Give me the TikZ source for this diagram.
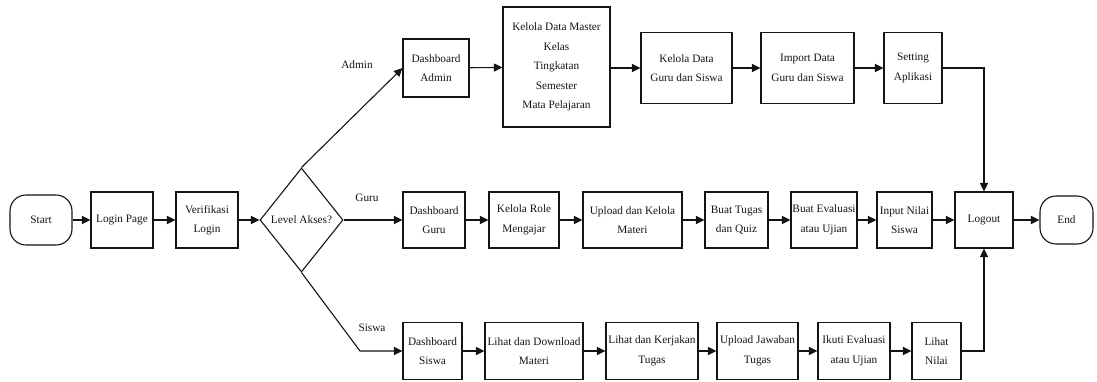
\documentclass[tikz,border=0pt]{standalone}
\usepackage{fontspec}
\setmainfont{Liberation Serif}
\usetikzlibrary{arrows.meta,positioning,shapes.geometric}
\definecolor{ink}{HTML}{141414}
\tikzset{
  >={Triangle[length=8.5pt,width=8pt]},
  box/.style={draw=ink, line width=1.1pt, align=center, inner sep=0pt, text=ink,
    font=\fontsize{11.3}{19.5}\selectfont},
  sz/.style 2 args={minimum width=#1pt, minimum height=#2pt},
  term/.style={box, rounded corners=16pt},
  dec/.style={box, diamond},
  arr/.style={->, draw=ink, line width=1.1pt},
  lbl/.style={font=\fontsize{11.3}{13}\selectfont, text=ink},
}
\begin{document}
\begin{tikzpicture}[x=1pt, y=-1pt]
  \useasboundingbox (0,0) rectangle (1097,381);
  % entry
  \node[term, sz={62}{50}] (start) at (41,220) {Start};
  \node[box, sz={62}{56}] (login) at (122,220) {Login Page};
  \node[box, sz={62}{56}] (verif) at (207,220) {Verifikasi\\ Login};
  \node[dec, sz={83}{104}] (level) at (301.5,220) {Level Akses?};
  \draw[arr] (start) -- (login);
  \draw[arr] (login) -- (verif);
  \draw[arr] (verif) -- (level);
  % admin
  \node[box, sz={66}{58}] (dadmin) at (436,68) {Dashboard\\ Admin};
  \node[box, sz={107}{120}] (master) at (556.5,67) {Kelola Data Master\\ Kelas\\ Tingkatan\\ Semester\\ Mata Pelajaran};
  \node[box, sz={91}{71}] (kdata) at (686.5,68) {Kelola Data\\ Guru dan Siswa};
  \node[box, sz={93}{71}] (import) at (807.5,68) {Import Data\\ Guru dan Siswa};
  \node[box, sz={58}{71}] (setting) at (913,68) {Setting\\ Aplikasi};
  \node[lbl] (ladmin) at (357,65) {Admin};
  \draw[arr] (level.north) -- (dadmin.west);
  \draw[arr] (dadmin) -- (master);
  \draw[arr] (master.east |- kdata.west) -- (kdata);
  \draw[arr] (kdata) -- (import);
  \draw[arr] (import) -- (setting);
  % guru
  \node[box, sz={62}{56}] (dguru) at (434,220) {Dashboard\\ Guru};
  \node[box, sz={70}{56}] (role) at (524,220) {Kelola Role\\ Mengajar};
  \node[box, sz={99}{56}] (materi) at (632.5,220) {Upload dan Kelola\\ Materi};
  \node[box, sz={63}{56}] (tugas) at (736.5,220) {Buat Tugas\\ dan Quiz};
  \node[box, sz={66}{56}] (evaluasi) at (824,220) {Buat Evaluasi\\ atau Ujian};
  \node[box, sz={55}{56}] (nilai) at (904.5,220) {Input Nilai\\ Siswa};
  \node[lbl] (lguru) at (367,198) {Guru};
  \draw[arr] (level.east) -- (dguru);
  \draw[arr] (dguru) -- (role);
  \draw[arr] (role) -- (materi);
  \draw[arr] (materi) -- (tugas);
  \draw[arr] (tugas) -- (evaluasi);
  \draw[arr] (evaluasi) -- (nilai);
  % siswa
  \node[box, sz={59}{57}] (dsiswa) at (432.5,351) {Dashboard\\ Siswa};
  \node[box, sz={98}{57}] (download) at (534,351) {Lihat dan Download\\ Materi};
  \node[box, sz={92}{57}] (kerjakan) at (652,351) {Lihat dan Kerjakan\\ Tugas};
  \node[box, sz={81}{57}] (jawaban) at (757.5,351) {Upload Jawaban\\ Tugas};
  \node[box, sz={72}{57}] (ikuti) at (854,351) {Ikuti Evaluasi\\ atau Ujian};
  \node[box, sz={49}{57}] (lihat) at (936.5,351) {Lihat\\ Nilai};
  \node[lbl] (lsiswa) at (372,328) {Siswa};
  \coordinate (sbend) at (360,351);
  \draw[arr] (level.south) -- (sbend) -- (dsiswa.west);
  \draw[arr] (dsiswa) -- (download);
  \draw[arr] (download) -- (kerjakan);
  \draw[arr] (kerjakan) -- (jawaban);
  \draw[arr] (jawaban) -- (ikuti);
  \draw[arr] (ikuti) -- (lihat);
  % exit
  \node[box, sz={58}{56}] (logout) at (984,220) {Logout};
  \node[term, sz={53}{48}] (end) at (1066.5,220) {End};
  \draw[arr] (setting.east) -| (logout.north);
  \draw[arr] (nilai) -- (logout);
  \draw[arr] (lihat.east) -| (logout.south);
  \draw[arr] (logout) -- (end);
\end{tikzpicture}
\end{document}
